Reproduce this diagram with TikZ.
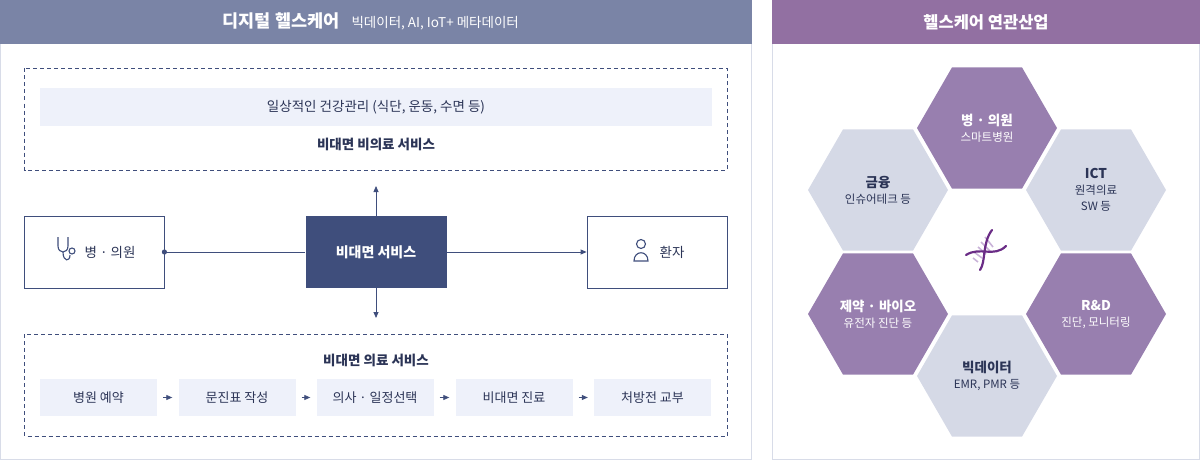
\documentclass[tikz,border=0pt]{standalone}
\usepackage{fontspec}
\setmainfont{Noto Sans CJK KR}
\usetikzlibrary{arrows.meta,shapes.geometric}
\definecolor{navy}{HTML}{3F4E7C}
\definecolor{txt}{HTML}{2B3456}
\definecolor{hdrL}{HTML}{7A84A6}
\definecolor{hdrR}{HTML}{9270A2}
\definecolor{pale}{HTML}{EEF1FA}
\definecolor{hexP}{HTML}{987FAF}
\definecolor{hexG}{HTML}{D5D9E6}
\definecolor{bord}{HTML}{D8DCE8}
\definecolor{dnaD}{HTML}{6A2C86}
\definecolor{dnaL}{HTML}{C9B3D8}
\tikzset{
  dbox/.style={draw=navy,dashed,dash pattern=on 4pt off 3pt,line width=0.7pt},
  wbox/.style={draw=navy,line width=0.8pt,fill=white},
  sbox/.style={fill=pale,minimum width=117pt,minimum height=37pt,text=txt,font=\fontsize{13}{13}\selectfont},
  arr/.style={draw=navy,line width=0.8pt,-{Triangle[length=6pt,width=5pt]}},
  hex/.style={regular polygon,regular polygon sides=6,minimum size=140pt,inner sep=0pt,align=center,font=\fontsize{11.5}{16}\selectfont},
  lbl/.style={text=txt,font=\fontsize{13.5}{14}\selectfont}
}
\begin{document}
\begin{tikzpicture}[x=1pt,y=-1pt]
\useasboundingbox (0,0) rectangle (1200,460);
% left panel
\draw[bord,line width=0.8pt] (0.5,0.5) rectangle (751.5,459.5);
\fill[hdrL] (0,0) rectangle (752,44);
\node[text=white,anchor=base east,font=\bfseries\fontsize{17.5}{17}\selectfont] (ht) at (343,28) {디지털 헬스케어};
\node[text=white,anchor=base west,font=\fontsize{13.5}{12}\selectfont] (hs) at (348,28) {빅데이터, AI, IoT+ 메타데이터};
% top dashed
\draw[dbox] (24.5,68.5) rectangle (727,170);
\fill[pale] (40,88) rectangle (712,126);
\node[lbl] (t1) at (376,107) {일상적인 건강관리 (식단, 운동, 수면 등)};
\node[lbl,font=\bfseries\fontsize{13.5}{14}\selectfont] (t2) at (376,144) {비대면 비의료 서비스};
% middle
\node[wbox,minimum width=140pt,minimum height=72pt] (hos) at (94,252) {};
\node[lbl] (hosl) at (110,252) {병 · 의원};
\node[wbox,minimum width=140pt,minimum height=72pt] (pat) at (657,252) {};
\node[lbl] (patl) at (672,252) {환자};
\node[fill=navy,minimum width=141pt,minimum height=72pt,text=white,font=\bfseries\fontsize{14}{14}\selectfont] (svc) at (376,252) {비대면 서비스};
% stethoscope icon
\begin{scope}[navy,line width=1.1pt]
\draw (58,237) -- (58,246) .. controls (58,254) and (68,254) .. (68,246) -- (68,237);
\draw (63,252) .. controls (63,262) and (70,262) .. (70,255);
\draw (72,251) circle (3pt);
\end{scope}
% person icon
\begin{scope}[navy,line width=1.1pt]
\draw (641,244) circle (4.5pt);
\draw (634,261) .. controls (634,250) and (648,250) .. (648,261) -- cycle;
\end{scope}
\coordinate (upend) at (376,186);
\coordinate (dnend) at (376,318);
\draw[arr] (svc.north) -- (upend);
\draw[arr] (svc.south) -- (dnend);
\draw[arr] (svc.east) -- (pat.west);
\draw[navy,line width=0.8pt] (hos.east) -- (svc.west);
\fill[navy] (hos.east) circle (2.6pt);
% bottom dashed
\draw[dbox] (24.5,334) rectangle (727,436);
\node[lbl,font=\bfseries\fontsize{13.5}{14}\selectfont] (t3) at (376,360) {비대면 의료 서비스};
\node[sbox] (b1) at (98.5,397.5) {병원 예약};
\node[sbox] (b2) at (237,397.5) {문진표 작성};
\node[sbox] (b3) at (375,397.5) {의사 · 일정선택};
\node[sbox] (b4) at (514,397.5) {비대면 진료};
\node[sbox] (b5) at (652.5,397.5) {처방전 교부};
\draw[arr,shorten <=6pt,shorten >=6pt] (b1) -- (b2);
\draw[arr,shorten <=6pt,shorten >=6pt] (b2) -- (b3);
\draw[arr,shorten <=6pt,shorten >=6pt] (b3) -- (b4);
\draw[arr,shorten <=6pt,shorten >=6pt] (b4) -- (b5);
% right panel
\draw[bord,line width=0.8pt] (772.5,0.5) rectangle (1199.5,459.5);
\fill[hdrR] (772,0) rectangle (1200,44);
\node[text=white,font=\bfseries\fontsize{16.5}{16}\selectfont] (rt) at (986,22) {헬스케어 연관산업};
\node[hex,fill=hexP,text=white] (h1) at (987,128) {\textbf{\fontsize{13.5}{16}\selectfont 병 · 의원}\\스마트병원};
\node[hex,fill=hexG,text=txt] (h2) at (878,190) {\textbf{\fontsize{13.5}{16}\selectfont 금융}\\인슈어테크 등};
\node[hex,fill=hexG,text=txt] (h3) at (1096,190) {\textbf{\fontsize{13.5}{16}\selectfont ICT}\\원격의료\\SW 등};
\node[hex,fill=hexP,text=white] (h4) at (878,314) {\textbf{\fontsize{13.5}{16}\selectfont 제약 · 바이오}\\유전자 진단 등};
\node[hex,fill=hexP,text=white] (h5) at (1096,314) {\textbf{\fontsize{13.5}{16}\selectfont R\&D}\\진단, 모니터링};
\node[hex,fill=hexG,text=txt] (h6) at (987,376) {\textbf{\fontsize{13.5}{16}\selectfont 빅데이터}\\EMR, PMR 등};
% DNA icon
\begin{scope}[line width=1.6pt,draw=dnaL]
\draw (985,237) -- (993,247);
\draw (981,242) -- (990,251);
\draw (978,247) -- (986,254);
\draw (974,252) -- (982,258);
\draw (973,258) -- (978,262);
\end{scope}
\draw[line width=2.2pt,dnaD,line cap=round] (992,230) .. controls (982,243) and (986,262) .. (980,270);
\draw[line width=2.2pt,dnaD,line cap=round] (966,255) .. controls (980,246) and (994,258) .. (1006,246);
\end{tikzpicture}
\end{document}
